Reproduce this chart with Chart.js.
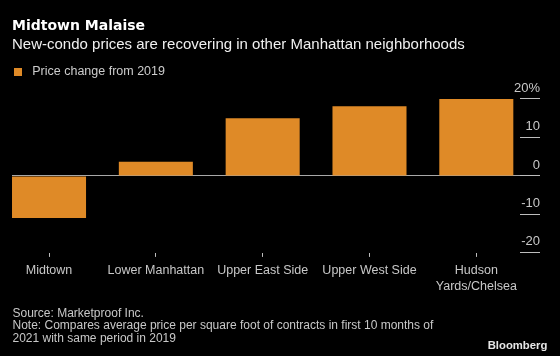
<!DOCTYPE html>
<html><head><meta charset="utf-8">
<style>
html,body{margin:0;padding:0;background:#000;}
#wrap{position:relative;width:560px;height:356px;overflow:hidden;background:#000;}
#c{position:absolute;left:0;top:0;}
.foot{position:absolute;left:12.5px;top:306.6px;font:12px/12.5px "Liberation Sans",Arial,sans-serif;color:#c8c8c8;white-space:nowrap;}
.logo{position:absolute;right:12.7px;top:339px;font:bold 11.3px/12px "Liberation Sans",Arial,sans-serif;color:#e6e6e6;}
</style>
<script src="https://cdn.jsdelivr.net/npm/chart.js@4/dist/chart.umd.min.js"></script>
</head><body>
<div id="wrap">
<canvas id="c" width="560" height="356"></canvas>
<div class="foot">Source: Marketproof Inc.<br>Note: Compares average price per square foot of contracts in first 10 months of<br>2021 with same period in 2019</div>
<div class="logo">Bloomberg</div>
</div>
<script>
const categories = ['Midtown', 'Lower Manhattan', 'Upper East Side', 'Upper West Side', ['Hudson', 'Yards/Chelsea']];
const priceChange = [-10.9, 3.7, 15.0, 18.1, 20.0];
const yTicks = [-20, -10, 0, 10, 20];
const seriesName = 'Price change from 2019';

const BAR = '#df8a27';
const marker = document.createElement('canvas');
marker.width = 12; marker.height = 8;
const mctx = marker.getContext('2d');
mctx.fillStyle = BAR; mctx.fillRect(0, 0, 8, 8);

new Chart(document.getElementById('c'), {
  type: 'bar',
  data: {
    datasets: [{
      label: seriesName,
      data: priceChange.map((v, i) => ({x: i, y: v})),
      backgroundColor: BAR,
      borderWidth: 0,
      categoryPercentage: 1,
      barPercentage: 0.693
    }]
  },
  options: {
    responsive: false,
    animation: false,
    events: [],
    layout: {padding: {left: 12, right: 20, top: 0, bottom: 56.3}},
    plugins: {
      title: {display: true, text: 'Midtown Malaise', align: 'start', color: '#ffffff',
        font: {family: 'DejaVu Sans', weight: 'bold', size: 14, lineHeight: 1.2}, padding: {top: 18.3, bottom: 0}},
      subtitle: {display: true, text: 'New-condo prices are recovering in other Manhattan neighborhoods', align: 'start', color: '#f0f0f0',
        font: {family: 'Liberation Sans', size: 15, lineHeight: 1.2}, padding: {top: 1.2, bottom: 9}},
      legend: {display: true, position: 'top', align: 'start',
        labels: {color: '#cccccc', font: {family: 'Liberation Sans', size: 12.5}, padding: 2,
          usePointStyle: true, pointStyle: marker, pointStyleWidth: 12}},
      tooltip: {enabled: false}
    },
    scales: {
      x: {
        type: 'linear', position: 'bottom', min: -0.3466, max: 4.409, offset: false,
        afterBuildTicks: s => { s.ticks = categories.map((_, i) => ({value: i})); },
        grid: {offset: false, drawOnChartArea: false, drawTicks: true, tickLength: 4, tickColor: '#bdbdbd', tickWidth: 1},
        border: {display: false},
        ticks: {color: '#c8c8c8', padding: 5.4, maxRotation: 0, autoSkip: false,
          font: {family: 'Liberation Sans', size: 12.5, lineHeight: '16px'},
          callback: v => categories[v]}
      },
      y: {
        type: 'linear', position: 'right', min: -20, max: 22.9,
        afterBuildTicks: s => { s.ticks = yTicks.map(v => ({value: v})); },
        afterFit: s => { s.width = 20; },
        grid: {drawOnChartArea: true, drawTicks: true, tickLength: 20, tickWidth: 1, lineWidth: 1,
          tickColor: '#bdbdbd',
          color: c => (c.tick && c.tick.value === 0) ? '#a8a8a8' : 'rgba(0,0,0,0)'},
        border: {display: false},
        ticks: {color: '#c8c8c8', mirror: true, crossAlign: 'near', padding: 20, labelOffset: -11,
          font: {family: 'Liberation Sans', size: 13},
          callback: v => v === 20 ? '20%' : String(v)}
      }
    }
  }
});
</script>
</body></html>
